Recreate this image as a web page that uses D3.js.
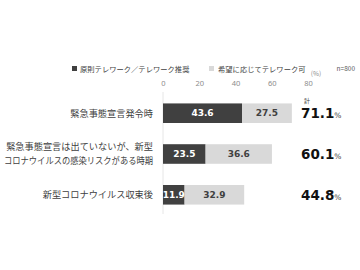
<!DOCTYPE html>
<html>
<head>
<meta charset="utf-8">
<script src="https://cdn.jsdelivr.net/npm/d3@7"></script>
<style>
  body { margin: 0; background: #fff; }
  svg text { font-family: "Noto Sans CJK JP", "Noto Sans", sans-serif; }
</style>
</head>
<body>
<div id="chart"></div>
<script>
// data
let categories = ["緊急事態宣言発令時", "緊急事態宣言は出ていないが、新型\nコロナウイルスの感染リスクがある時期", "新型コロナウイルス収束後"];
let seriesNames = ["原則テレワーク／テレワーク推奨", "希望に応じてテレワーク可"];
let strict = [43.6, 23.5, 11.9];
let optional = [27.5, 36.6, 32.9];
let totals = [71.1, 60.1, 44.8];
let ticks = [0, 20, 40, 60, 80];

let width = 360, height = 270;
let dark = "#404040", light = "#d9d9d9";

let svg = d3.select("#chart").append("svg")
    .attr("width", width).attr("height", height);

let x = d3.scaleLinear().domain([0, 80]).range([163, 308]);
let y = d3.scaleBand().domain(categories).range([92, 216]).paddingInner(0.52).paddingOuter(0.28);

// legend
let legend = svg.append("g").attr("font-size", 7.3).attr("fill", "#404040");
legend.append("rect").attr("x", 72).attr("y", 66).attr("width", 5).attr("height", 5).attr("fill", dark);
legend.append("text").attr("x", 80).attr("y", 71.5).text(seriesNames[0]);
legend.append("rect").attr("x", 209).attr("y", 66).attr("width", 5).attr("height", 5).attr("fill", light);
legend.append("text").attr("x", 218).attr("y", 71.5).text(seriesNames[1]);
svg.append("text").attr("x", 355).attr("y", 71).attr("text-anchor", "end")
    .attr("font-size", 6.5).attr("fill", "#595959").text("n=800");
svg.append("text").attr("x", 316).attr("y", 76).attr("text-anchor", "middle")
    .attr("font-size", 6.5).attr("fill", "#8c8c8c").text("(%)");

// top axis, labels only
let axis = svg.append("g").attr("transform", "translate(0,86)")
    .call(d3.axisTop(x).tickValues(ticks).tickSize(0).tickPadding(0));
axis.select(".domain").remove();
axis.selectAll("text").attr("font-size", 7.5).attr("fill", "#8c8c8c")
    .style("font-family", "'Noto Sans', sans-serif");

// zero line
svg.append("line").attr("x1", x(0)).attr("x2", x(0)).attr("y1", 92).attr("y2", 214)
    .attr("stroke", "#e6e6e6").attr("stroke-width", 1);

let rows = categories.map((c, i) => ({cat: c, a: strict[i], b: optional[i], t: totals[i]}));

let g = svg.append("g").selectAll("g").data(rows).join("g");

g.append("rect").attr("x", x(0)).attr("y", d => y(d.cat))
    .attr("width", d => x(d.a) - x(0)).attr("height", y.bandwidth()).attr("fill", dark);
g.append("rect").attr("x", d => x(d.a)).attr("y", d => y(d.cat))
    .attr("width", d => x(d.a + d.b) - x(d.a)).attr("height", y.bandwidth()).attr("fill", light);

let valFont = "'DejaVu Sans', sans-serif";
g.append("text").attr("x", d => (x(0) + x(d.a)) / 2).attr("y", d => y(d.cat) + y.bandwidth() / 2)
    .attr("dy", "0.36em").attr("text-anchor", "middle").attr("font-size", 9).attr("font-weight", "bold")
    .style("font-family", valFont).attr("fill", "#fff").text(d => d.a.toFixed(1));
g.append("text").attr("x", d => (x(d.a) + x(d.a + d.b)) / 2).attr("y", d => y(d.cat) + y.bandwidth() / 2)
    .attr("dy", "0.36em").attr("text-anchor", "middle").attr("font-size", 9).attr("font-weight", "bold")
    .style("font-family", valFont).attr("fill", "#404040").text(d => d.b.toFixed(1));

// category labels, squeezed if a line gets too long
g.each(function(d) {
    let lines = d.cat.split("\n");
    let cy = y(d.cat) + y.bandwidth() / 2;
    lines.forEach((l, k) => {
        let t = d3.select(this).append("text").attr("text-anchor", "end").attr("font-size", 9.2)
            .attr("fill", "#404040").attr("x", 153)
            .attr("y", cy + (k - (lines.length - 1) / 2) * 14)
            .attr("dy", "0.36em").text(l);
        if (t.node().getComputedTextLength() > 149) {
            t.attr("textLength", 149).attr("lengthAdjust", "spacingAndGlyphs");
        }
    });
});

// totals
let tot = g.append("text").attr("x", 301).attr("y", d => y(d.cat) + y.bandwidth() / 2 + 5)
    .style("font-family", "'DejaVu Sans', sans-serif").attr("fill", "#111");
tot.append("tspan").attr("font-size", 13.5).attr("font-weight", "bold").text(d => d.t.toFixed(1));
tot.append("tspan").attr("font-size", 7.5).attr("fill", "#404040").text("%");

svg.append("text").attr("x", 307).attr("y", 103).attr("text-anchor", "middle")
    .attr("font-size", 6).attr("fill", "#404040").text("計");
</script>
</body>
</html>
